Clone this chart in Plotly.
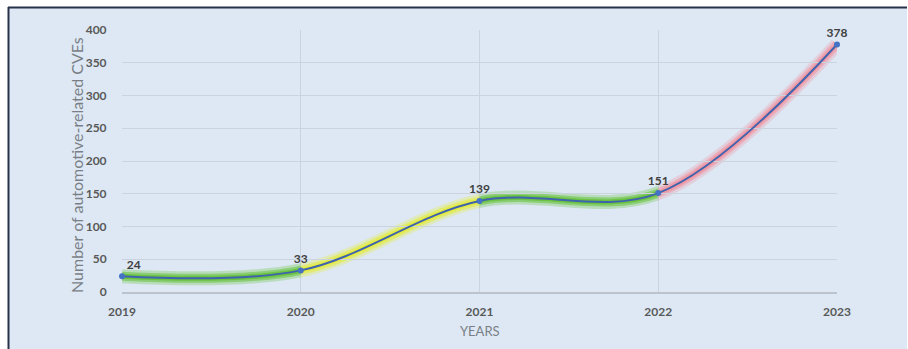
import plotly.graph_objects as go

years = [2019, 2020, 2021, 2022, 2023]
cves = [24, 33, 139, 151, 378]
labels = ["24", "33", "139", "151", "378"]
y_ticks = [0, 50, 100, 150, 200, 250, 300, 350, 400]

# glow segments: (start year, end year, colour)
glow_segments = [
    (2019, 2020, "#5fbf30"),
    (2020, 2021, "#e4ec30"),
    (2021, 2022, "#5fbf30"),
    (2022, 2023, "#f0909e"),
]

W, H = 908, 349
L, R, T, B = 122, 71, 30, 57
plot_w = W - L - R

fig = go.Figure()

# invisible trace anchoring the main (visible) x axis
fig.add_trace(go.Scatter(x=years, y=cves, mode="markers", marker=dict(opacity=0),
                         hoverinfo="skip", showlegend=False))

layout_axes = {}
span = years[-1] - years[0]
for i, (x0, x1, col) in enumerate(glow_segments):
    ax_name = f"xaxis{i + 2}"
    ref = f"x{i + 2}"
    d0 = (x0 - years[0]) / span
    d1 = (x1 - years[0]) / span
    layout_axes[ax_name] = dict(domain=[d0, d1], range=[x0, x1], visible=False,
                                anchor="y", showgrid=False, zeroline=False)
    for width, op in [(14, 0.28), (9, 0.5), (5, 0.75)]:
        fig.add_trace(go.Scatter(
            x=years, y=cves, xaxis=ref, yaxis="y", mode="lines",
            line=dict(color=col, width=width, shape="spline", smoothing=1.0),
            opacity=op, hoverinfo="skip", showlegend=False))

# main line on a top-most overlay axis so it is drawn above the glow
main_ref_n = len(glow_segments) + 2
layout_axes[f"xaxis{main_ref_n}"] = dict(domain=[0, 1], range=[years[0], years[-1]],
                                         visible=False, anchor="y",
                                         showgrid=False, zeroline=False)
fig.add_trace(go.Scatter(
    x=years, y=cves, xaxis=f"x{main_ref_n}", yaxis="y", mode="lines+markers+text",
    line=dict(color="#3f63ad", width=2, shape="spline", smoothing=1.0),
    marker=dict(color="#4472c4", size=6),
    text=labels,
    textposition=["top right", "top center", "top center", "top center", "top center"],
    textfont=dict(family="Lato", size=12, color="#404040", weight="bold"),
    cliponaxis=False, showlegend=False))

bg = "#dde8f4"
tickfont = dict(family="Lato", size=12, color="#595959", weight="bold")

fig.update_layout(
    width=W, height=H,
    margin=dict(l=L, r=R, t=T, b=B),
    paper_bgcolor=bg, plot_bgcolor="rgba(0,0,0,0)",
    showlegend=False,
    xaxis=dict(range=[years[0], years[-1]], tickvals=years, ticktext=[str(y) for y in years],
               showgrid=True, gridcolor="#cbd4de", gridwidth=1,
               showline=True, linecolor="#bcc3cc", linewidth=2,
               zeroline=False, ticks="outside", ticklen=8, tickcolor="rgba(0,0,0,0)",
               tickfont=tickfont, fixedrange=True),
    yaxis=dict(range=[0, 400], tickvals=y_ticks,
               showgrid=True, gridcolor="#cbd4de", gridwidth=1,
               zeroline=False, ticks="outside", ticklen=12, tickcolor="rgba(0,0,0,0)",
               tickfont=tickfont, fixedrange=True),
    **layout_axes,
)

def px_x(p):
    return (p - L) / plot_w

def px_y(p):
    return (H - B - p) / (H - T - B)

# frame: white strips and dark border (top and left)
fig.add_shape(type="rect", xref="paper", yref="paper", x0=px_x(-5), x1=px_x(W + 5),
              y0=px_y(7), y1=px_y(-5), fillcolor="white", line_width=0, layer="above")
fig.add_shape(type="rect", xref="paper", yref="paper", x0=px_x(-5), x1=px_x(8),
              y0=px_y(H + 5), y1=px_y(-5), fillcolor="white", line_width=0, layer="above")
fig.add_shape(type="rect", xref="paper", yref="paper", x0=px_x(907), x1=px_x(W + 5),
              y0=px_y(H + 5), y1=px_y(7), fillcolor="white", line_width=0, layer="above")
fig.add_shape(type="line", xref="paper", yref="paper", x0=px_x(8), x1=px_x(907),
              y0=px_y(7.5), y1=px_y(7.5), line=dict(color="#27324a", width=2), layer="above")
fig.add_shape(type="line", xref="paper", yref="paper", x0=px_x(8.5), x1=px_x(8.5),
              y0=px_y(7), y1=px_y(H + 5), line=dict(color="#27324a", width=2), layer="above")

fig.add_annotation(text="Number of automotive-related CVEs", xref="paper", yref="paper",
                   x=px_x(76), y=px_y(165), xanchor="center", yanchor="middle",
                   textangle=-90, showarrow=False,
                   font=dict(family="Lato", size=16, color="#7a7f86"))
fig.add_annotation(text="YEARS", xref="paper", yref="paper",
                   x=0.5, y=px_y(331), xanchor="center", yanchor="middle", showarrow=False,
                   font=dict(family="Lato", size=13, color="#7a7f86"))

fig.write_html("out.html")
